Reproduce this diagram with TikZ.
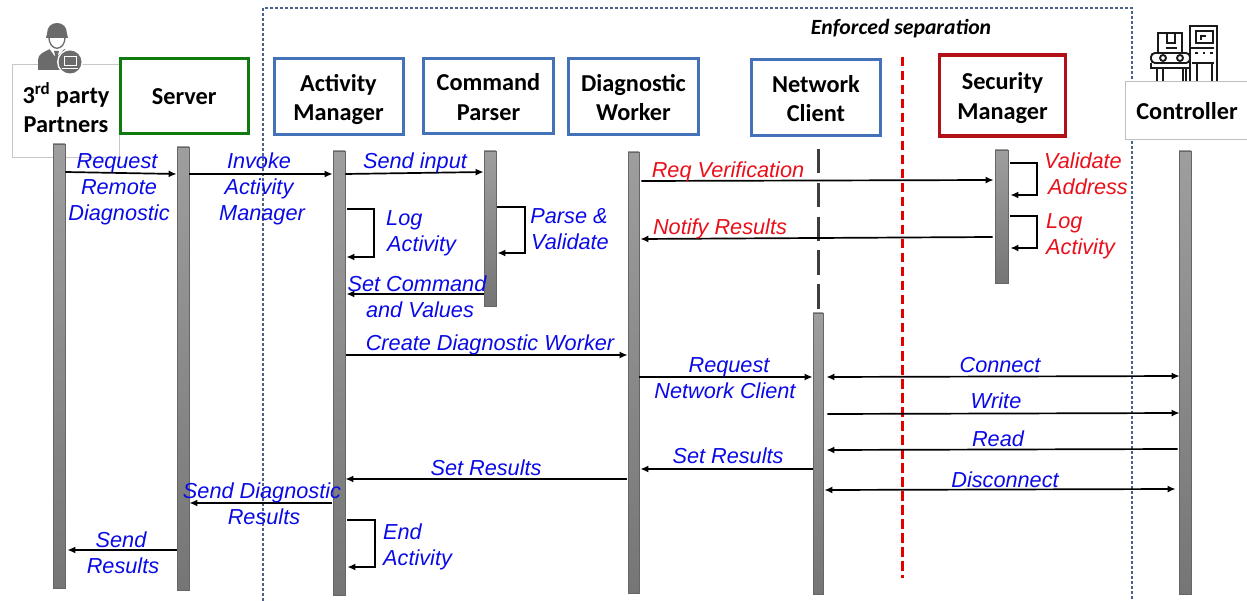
\documentclass[tikz,border=0pt]{standalone}
\usepackage{fontspec}
\setmainfont{Liberation Sans}
\newfontfamily\headfont{Carlito}
\usetikzlibrary{arrows.meta}
\definecolor{msgblue}{HTML}{0A0AE6}
\definecolor{msgred}{HTML}{E8101A}
\definecolor{boxblue}{HTML}{4472B8}
\definecolor{boxgreen}{HTML}{0E7A10}
\definecolor{boxred}{HTML}{B01016}
\definecolor{sepline}{HTML}{4A6288}
\tikzset{
  x=1pt,y=-1pt,
  head/.style={font=\headfont\bfseries\fontsize{24.3}{29.5}\selectfont,align=center,text=black,anchor=center,inner sep=0pt},
  actor/.style={head,rectangle,draw,line width=#1,fill=white},
  bar/.style={rectangle,draw=black!60,line width=.7pt,top color=black!38,bottom color=black!54,inner sep=0pt},
  msg/.style={font=\itshape\fontsize{21.7}{26}\selectfont,text=msgblue,align=center,inner sep=0pt,text height=16pt,text depth=2pt},
  rmsg/.style={msg,text=msgred},
  arr/.style={-{Latex[length=8pt,width=7pt]},line width=1.7pt,black},
  darr/.style={{Latex[length=8pt,width=7pt]}-{Latex[length=8pt,width=7pt]},line width=1.7pt,black},
  iconline/.style={line width=1.9pt,black!90},
}
\newcommand{\actorbox}[7]{\node[actor=#1,draw=#2,minimum width=#5-#3,minimum height=#6-#4] (#7) at ({(#3+#5)/2},{(#4+#6)/2})}
\newcommand{\barnode}[5]{\node[bar,minimum width=#3-#2,minimum height=#5-#4] (#1) at ({(#2+#3)/2},{(#4+#5)/2}) {}}
\newcommand{\twolines}[2]{\rule{0pt}{24pt}#1\\#2\rule[-6pt]{0pt}{6pt}}
\begin{document}
\begin{tikzpicture}
\useasboundingbox (0,0) rectangle (1247,601);
% enforced boundary
\draw[sepline,line width=1.2pt,densely dashed] (263,601) -- (263,8) -- (1132,8) -- (1132,601);
\node[font=\headfont\bfseries\itshape\fontsize{21.7}{24}\selectfont,inner sep=0pt] (enf) at (901,29) {Enforced separation};
% light boxes
\actorbox{.8pt}{black!22}{12}{64}{119}{157}{tp} {};
\node[head] (tptext) at (66,109) {\twolines{3\textsuperscript{rd} party}{Partners}};
\actorbox{.8pt}{black!25}{1125}{81}{1260}{139}{ctl} {};
\node[head] (ctltext) at (1187,111) {Controller};
% worker icon
\fill[black!58] (38,70) -- (38,60) .. controls (38,54) and (44,52) .. (50,49) -- (64,49) .. controls (70,52) and (74,54) .. (74,60) -- (74,70) -- cycle;
\fill[white] (49,48) -- (56,58) -- (65,48) -- cycle;
\fill[black!58] (54,51) -- (59,51) -- (58,55) -- (59,67) -- (54,67) -- (55,55) -- cycle;
\draw[black!58,line width=1.3pt,fill=white] (49,37) .. controls (49,52) and (65,52) .. (65,37);
\fill[black!58] (47,34) .. controls (47,27) and (51,23) .. (57,23) .. controls (63,23) and (67,27) .. (67,34) -- (68,38) -- (46,38) -- cycle;
\fill[white] (70,62) circle (13);
\fill[black!58] (70,62) circle (11.5);
\draw[white,line width=1pt] (64,57) rectangle (76,66);
\draw[white,line width=1pt] (62,68.5) -- (78,68.5);
% controller icon
\begin{scope}[iconline]
\draw (1158,52) -- (1158,33) -- (1182,33) -- (1182,52);
\draw (1167,33) -- (1167,43) -- (1175,43) -- (1175,33) (1166,48) -- (1177,48);
\draw[rounded corners=4pt] (1151,53) rectangle (1190,63);
\draw (1163,58) circle (3) (1180,58) circle (3);
\draw (1151,63) -- (1151,68) -- (1190,68);
\draw (1157,81) -- (1157,68) (1163,81) -- (1163,68) (1183,81) -- (1183,68) (1186,81) -- (1186,68);
\draw (1190,81) -- (1190,26) -- (1217,26) -- (1217,81);
\draw (1196,31) rectangle (1213,43);
\draw[line width=1.5pt] (1201,40) -- (1201,36) -- (1206,36);
\draw (1191,48) -- (1214,48) (1192,63) -- (1214,63);
\draw (1197,81) -- (1197,63) (1212,81) -- (1212,63);
\draw[dash pattern=on 2.5pt off 5pt] (1195,53) -- (1214,53);
\end{scope}
% actor boxes
\actorbox{3pt}{boxgreen}{120.5}{59}{248}{134}{server} {Server};
\actorbox{3pt}{boxblue}{274}{59}{403}{135}{am} {\twolines{Activity}{Manager}};
\actorbox{3pt}{boxblue}{423.5}{59}{553.5}{134}{cp} {\twolines{Command}{Parser}};
\actorbox{3pt}{boxblue}{568.5}{59}{698.5}{135}{dw} {\twolines{Diagnostic}{Worker}};
\actorbox{3pt}{boxblue}{751.5}{60}{880.5}{136}{nc} {\twolines{Network}{Client}};
\actorbox{3.5pt}{boxred}{939.5}{55}{1065.5}{136}{sm} {\twolines{Security}{Manager}};
% activation bars
\barnode{b1}{53}{65}{144}{588};
\barnode{b2}{177}{189}{147}{590};
\barnode{b3}{333}{345}{151}{595};
\barnode{b4}{484}{496}{151}{306};
\barnode{b5}{628}{639}{152}{593};
\barnode{b6}{813}{823}{313}{594};
\barnode{b7}{995}{1008}{150}{283};
\barnode{b8}{1179}{1191}{151}{594};
% lifeline stub and separation
\coordinate (ncfoot) at (818,149);
\coordinate (ncend) at (818,309);
\draw[black!76,line width=3pt,dash pattern=on 24.5pt off 9.3pt] (ncfoot) -- (ncend);
\coordinate (septop) at (902,57);
\coordinate (sepbot) at (902,578);
\draw[red!90!black,line width=3pt,dash pattern=on 9.5pt off 4.5pt] (septop) -- (sepbot);
% messages
\draw[arr] (b1.east |- 0,172) -- (b2.west |- 0,174);
\draw[arr] (b2.east |- 0,174) -- (b3.west |- 0,174);
\draw[arr] (b3.east |- 0,174) -- (b4.west |- 0,172);
\draw[arr] ([xshift=2pt]b3.east |- 0,209) -- (374,209) -- (374,257) -- ([xshift=1pt]b3.east |- 0,257);
\draw[arr] ([xshift=1pt]b4.east |- 0,207) -- (525,207) -- (525,253) -- ([xshift=1pt]b4.east |- 0,253);
\draw[arr] (b4.west |- 0,294) -- ([xshift=1pt]b3.east |- 0,294);
\draw[arr] ([xshift=1pt]b3.east |- 0,355) -- (b5.west |- 0,355);
\draw[arr] (b5.east |- 0,377) -- (b6.west |- 0,377);
\draw[darr] ([xshift=3pt]b6.east |- 0,377) -- ([xshift=1pt]b8.west |- 0,376);
\draw[arr] ([xshift=4pt]b6.east |- 0,414) -- ([xshift=1pt]b8.west |- 0,413);
\draw[arr] ([xshift=-1pt]b8.west |- 0,449) -- ([xshift=3pt]b6.east |- 0,450);
\draw[arr] (b6.west |- 0,469) -- ([xshift=1pt]b5.east |- 0,469);
\draw[arr] ([xshift=-1pt]b5.west |- 0,479) -- (b3.east |- 0,479);
\draw[darr] ([xshift=1pt]b6.east |- 0,490) -- ([xshift=-3pt]b8.west |- 0,489);
\draw[arr] ([xshift=-1pt]b3.west |- 0,503) -- (b2.east |- 0,503);
\draw[arr] (b2.west |- 0,550) -- ([xshift=2pt]b1.east |- 0,550);
\draw[arr] ([xshift=2pt]b3.east |- 0,520) -- (375,520) -- (375,567) -- ([xshift=2pt]b3.east |- 0,567);
\draw[arr] ([xshift=2pt]b5.east |- 0,181) -- ([xshift=-1pt]b7.west |- 0,180);
\draw[arr] ([xshift=-2pt]b7.west |- 0,237) -- ([xshift=1pt]b5.east |- 0,239);
\draw[arr] ([xshift=2pt]b7.east |- 0,163) -- (1037,163) -- (1037,195) -- ([xshift=2pt]b7.east |- 0,195);
\draw[arr] ([xshift=2pt]b7.east |- 0,216) -- (1037,216) -- (1037,248) -- ([xshift=2pt]b7.east |- 0,248);
% labels
\node[msg] (l1a) at (117,162) {Request};
\node[msg] (l1b) at (119,188) {Remote};
\node[msg] (l1c) at (119,214) {Diagnostic};
\node[msg] (l2a) at (259,162) {Invoke};
\node[msg] (l2b) at (259,188) {Activity};
\node[msg] (l2c) at (262,214) {Manager};
\node[msg] (l3) at (415,162) {Send input};
\node[msg,anchor=west] (l4a) at (386,219) {Log};
\node[msg,anchor=west] (l4b) at (387,245) {Activity};
\node[msg] (l5a) at (569,217) {Parse \&};
\node[msg] (l5b) at (570,243) {Validate};
\node[msg] (l6a) at (417,285) {Set Command};
\node[msg] (l6b) at (420,311) {and Values};
\node[msg] (l7) at (490,344) {Create Diagnostic Worker};
\node[msg] (l8a) at (729,365) {Request};
\node[msg] (l8b) at (725,391) {Network Client};
\node[msg] (l9) at (1000,365) {Connect};
\node[msg] (l10) at (996,401) {Write};
\node[msg] (l11) at (998,439) {Read};
\node[msg] (l12) at (728,456) {Set Results};
\node[msg] (l13) at (486,468) {Set Results};
\node[msg] (l14) at (1005,480) {Disconnect};
\node[msg] (l15a) at (262,491) {Send Diagnostic};
\node[msg] (l15b) at (264,517) {Results};
\node[msg,anchor=west] (l16a) at (383,532) {End};
\node[msg,anchor=west] (l16b) at (383,558) {Activity};
\node[msg] (l17a) at (121,540) {Send};
\node[msg] (l17b) at (123,566) {Results};
\node[rmsg] (r1) at (728,171) {Req Verification};
\node[rmsg] (r2) at (720,228) {Notify Results};
\node[rmsg,anchor=west] (r3a) at (1044,162) {Validate};
\node[rmsg,anchor=west] (r3b) at (1048,188) {Address};
\node[rmsg,anchor=west] (r4a) at (1046,222) {Log};
\node[rmsg,anchor=west] (r4b) at (1046,248) {Activity};
\end{tikzpicture}
\end{document}
